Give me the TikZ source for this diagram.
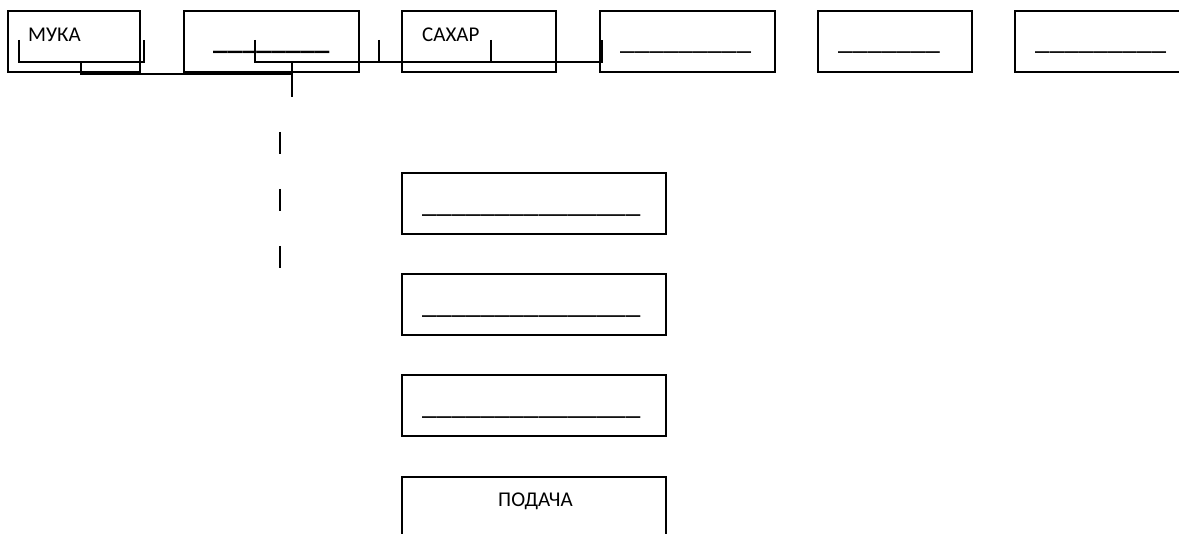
\documentclass[tikz,border=0pt]{standalone}
\usepackage{fontspec}
\setmainfont{Carlito}
\begin{document}
\begin{tikzpicture}[x=1pt,y=-1pt,
  box/.style={draw, line width=2pt, inner sep=0pt, outer sep=0pt, anchor=north west},
  lbl/.style={inner sep=0pt, anchor=base west, font=\fontsize{21}{24}\selectfont},
  uline/.style={inner sep=0pt, anchor=base west, font=\fontsize{29.2}{30}\selectfont},
  conn/.style={line width=1.5pt},
  dashconn/.style={line width=2pt, dash pattern=on 22pt off 35pt}]
\useasboundingbox (0,0) rectangle (1179,534);
% top row
\node[box, minimum width=132pt, minimum height=61pt] (b1) at (8,11) {};
\node[box, minimum width=175pt, minimum height=61pt] (b2) at (184,11) {};
\node[box, minimum width=154pt, minimum height=61pt] (b3) at (402,11) {};
\node[box, minimum width=175pt, minimum height=61pt] (b4) at (600,11) {};
\node[box, minimum width=154pt, minimum height=61pt] (b5) at (818,11) {};
\node[box, minimum width=180pt, minimum height=61pt] (b6) at (1015,11) {};
\node[lbl] (t1) at (28,42) {МУКА};
\node[lbl] (t3) at (422,42) {САХАР};
\node[uline] (u2) at (213,50) {\bfseries\_\_\_\_\_\_\_\_};
\node[uline] (u4) at (620,50) {\_\_\_\_\_\_\_\_\_};
\node[uline] (u5) at (838,50) {\_\_\_\_\_\_\_};
\node[uline] (u6) at (1035,50) {\_\_\_\_\_\_\_\_\_};
% column
\node[box, minimum width=264pt, minimum height=61pt] (c1) at (402,173) {};
\node[box, minimum width=264pt, minimum height=61pt] (c2) at (402,274) {};
\node[box, minimum width=264pt, minimum height=61pt] (c3) at (402,375) {};
\node[box, minimum width=264pt, minimum height=75pt] (c4) at (402,477) {};
\node[uline] (v1) at (422,213) {\_\_\_\_\_\_\_\_\_\_\_\_\_\_\_};
\node[uline] (v2) at (422,314) {\_\_\_\_\_\_\_\_\_\_\_\_\_\_\_};
\node[uline] (v3) at (422,415) {\_\_\_\_\_\_\_\_\_\_\_\_\_\_\_};
\node[lbl, anchor=base] (t4) at (535.5,507) {ПОДАЧА};
% connectors
\coordinate (p1) at (19,40);
\coordinate (p2) at (144,40);
\coordinate (q1) at (81,62);
\coordinate (q2) at (292,62);
\coordinate (q3) at (292,97);
\coordinate (r1) at (255,40);
\coordinate (r2) at (379,40);
\coordinate (r3) at (491,40);
\coordinate (r4) at (602,40);
\coordinate (d1) at (280,132);
\coordinate (d2) at (280,270);
\draw[conn] (p1) |- (p2 |- q1) -- (p2);
\draw[conn] (q1) -- ++(0,12) -| (q2);
\draw[conn] (q2) -- (q3);
\draw[conn] (r1) |- (r4 |- q1) -- (r4);
\draw[conn] (r2) -- (r2 |- q1);
\draw[conn] (r3) -- (r3 |- q1);
\draw[dashconn] (d1) -- (d2);
\end{tikzpicture}
\end{document}
